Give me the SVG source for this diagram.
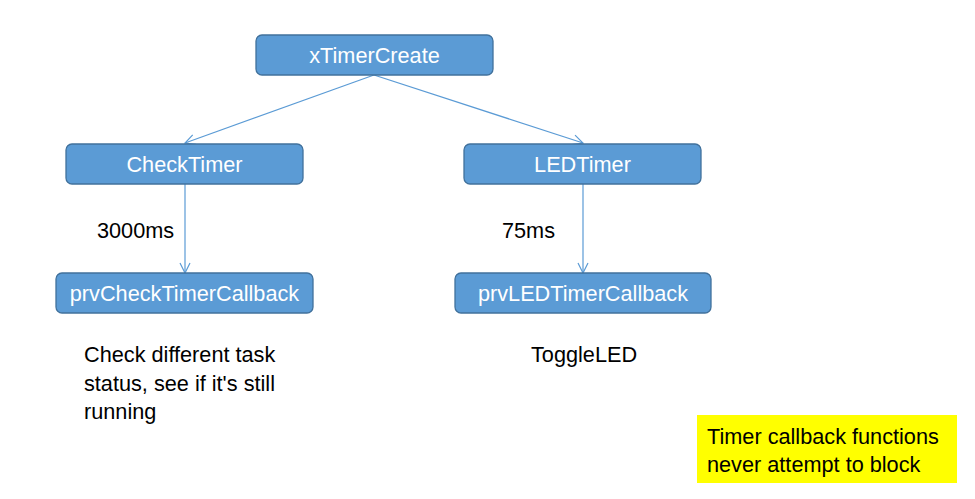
<svg xmlns="http://www.w3.org/2000/svg" width="975" height="499" viewBox="0 0 975 499">
<style>
.box{fill:#5B9BD5;stroke:#41719C;stroke-width:1.3}
.lbl{font-family:"Liberation Sans",Arial,sans-serif;font-size:21.7px;fill:#fff;text-anchor:middle}
.txt{font-family:"Liberation Sans",Arial,sans-serif;font-size:21.7px;fill:#000}
.con{stroke:#5B9BD5;stroke-width:1.2;fill:none}
</style>
<defs>
<marker id="ah" viewBox="0 0 12 12" refX="11" refY="6" markerWidth="12" markerHeight="12" markerUnits="userSpaceOnUse" orient="auto">
<path d="M1,1 L11,6 L1,11" fill="none" stroke="#5B9BD5" stroke-width="1.2"/>
</marker>
</defs>
<rect width="975" height="499" fill="#fff"/>
<g id="connectors">
<line class="con" x1="374" y1="75" x2="185" y2="143" marker-end="url(#ah)"/>
<line class="con" x1="374" y1="75" x2="583" y2="143" marker-end="url(#ah)"/>
<line class="con" x1="185" y1="184" x2="185" y2="273" marker-end="url(#ah)"/>
<line class="con" x1="583" y1="184" x2="583" y2="273" marker-end="url(#ah)"/>
</g>
<g id="xTimerCreate"><rect class="box" x="256" y="35" width="237" height="40" rx="6"/><text class="lbl" x="374.5" y="63">xTimerCreate</text></g>
<g id="CheckTimer"><rect class="box" x="66" y="144" width="237" height="40" rx="6"/><text class="lbl" x="184.5" y="172">CheckTimer</text></g>
<g id="LEDTimer"><rect class="box" x="464" y="144" width="237" height="40" rx="6"/><text class="lbl" x="582.5" y="172">LEDTimer</text></g>
<g id="prvCheckTimerCallback"><rect class="box" x="56" y="273" width="257" height="40" rx="6"/><text class="lbl" x="184.5" y="301">prvCheckTimerCallback</text></g>
<g id="prvLEDTimerCallback"><rect class="box" x="455" y="273" width="256" height="40" rx="6"/><text class="lbl" x="583" y="301">prvLEDTimerCallback</text></g>
<g id="labels">
<text class="txt" x="97" y="238">3000ms</text>
<text class="txt" x="502" y="238">75ms</text>
<text class="txt" x="84" y="362">Check different task</text>
<text class="txt" x="84" y="391">status, see if it's still</text>
<text class="txt" x="84" y="419">running</text>
<text class="txt" x="531" y="362">ToggleLED</text>
</g>
<g id="note">
<rect x="697" y="415" width="260" height="68" fill="#FFFF00"/>
<text class="txt" x="707" y="444">Timer callback functions</text>
<text class="txt" x="707" y="472">never attempt to block</text>
</g>
</svg>
